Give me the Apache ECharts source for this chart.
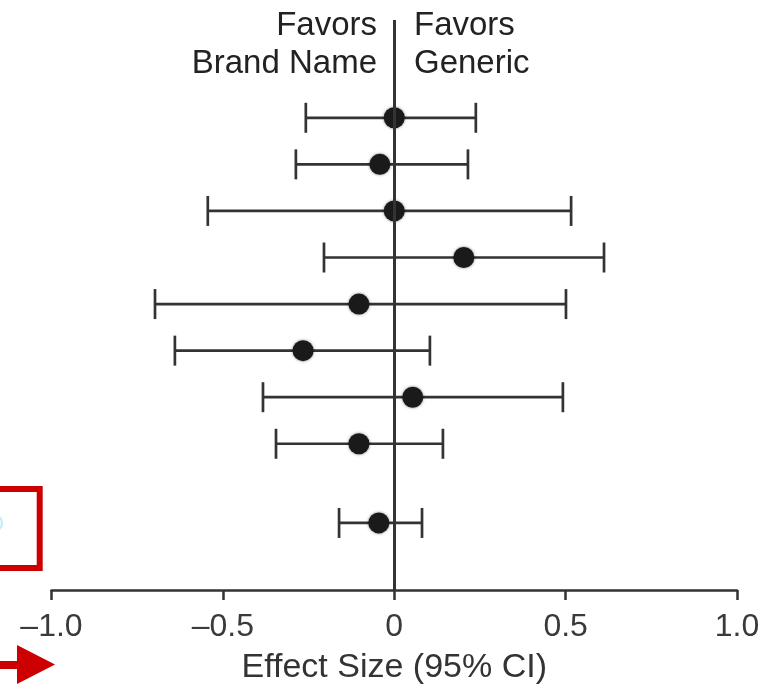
<!DOCTYPE html>
<html>
<head>
<meta charset="utf-8">
<script src="https://cdn.jsdelivr.net/npm/echarts@6/dist/echarts.min.js"></script>
<style>html,body{margin:0;padding:0;background:#fff;}#c{width:776px;height:693px;}</style>
</head>
<body>
<div id="c"></div>
<script>
// Row positions (top to bottom; last is the pooled estimate)
var rowPos   = [1, 2, 3, 4, 5, 6, 7, 8, 9.7];
var estimate = [0.0, -0.042, 0.0, 0.203, -0.103, -0.266, 0.054, -0.103, -0.045];
var ciLow    = [-0.258, -0.287, -0.544, -0.205, -0.698, -0.640, -0.383, -0.345, -0.161];
var ciHigh   = [0.238, 0.215, 0.516, 0.612, 0.501, 0.104, 0.492, 0.142, 0.081];
var xTicks   = [-1.0, -0.5, 0, 0.5, 1.0];
var tickLabels = {'-1': '\u20131.0', '-0.5': '\u20130.5', '0': '0', '0.5': '0.5', '1': '1.0'};

var FONT = '"Liberation Sans", Arial, Helvetica, sans-serif';
var INK = '#222';

var ciData = rowPos.map(function (p, i) { return [ciLow[i], ciHigh[i], p]; });
var ptData = rowPos.map(function (p, i) { return [estimate[i], p]; });

var chart = echarts.init(document.getElementById('c'), null, {renderer: 'canvas'});
chart.setOption({
  animation: false,
  backgroundColor: '#fff',
  grid: {left: 51.5, right: 39, top: 20, bottom: 103, containLabel: false},
  xAxis: {
    type: 'value', min: -1, max: 1, interval: 0.5,
    axisLine: {show: true, onZero: false, lineStyle: {color: '#333', width: 2.5}},
    axisTick: {show: true, length: 10, lineStyle: {color: '#333', width: 2.5}},
    splitLine: {show: false},
    axisLabel: {
      margin: 21, fontSize: 32, color: '#3a3a3a', fontFamily: FONT,
      formatter: function (v) { var k = String(Math.round(v * 10) / 10); return tickLabels[k] !== undefined ? tickLabels[k] : k; }
    },
    name: 'Effect Size (95% CI)', nameLocation: 'middle', nameGap: 61,
    nameTextStyle: {fontSize: 34, color: '#333', fontFamily: FONT}
  },
  yAxis: {type: 'value', min: -1.1, max: 11.14, inverse: true, show: false},
  series: [
    {
      type: 'custom',
      data: ciData,
      encode: {x: [0, 1], y: 2},
      renderItem: function (params, api) {
        var a = api.coord([api.value(0), api.value(2)]);
        var b = api.coord([api.value(1), api.value(2)]);
        var h = 15;
        var st = {stroke: '#333', lineWidth: 2.7};
        return {type: 'group', children: [
          {type: 'line', shape: {x1: a[0], y1: a[1], x2: b[0], y2: b[1]}, style: st},
          {type: 'line', shape: {x1: a[0], y1: a[1] - h, x2: a[0], y2: a[1] + h}, style: st},
          {type: 'line', shape: {x1: b[0], y1: b[1] - h, x2: b[0], y2: b[1] + h}, style: st}
        ]};
      },
      markLine: {
        silent: true, symbol: 'none', label: {show: false},
        lineStyle: {color: '#333', width: 3, type: 'solid'},
        data: [{xAxis: 0}]
      },
      z: 2
    },
    {
      type: 'scatter',
      data: ptData,
      symbol: 'circle', symbolSize: 21,
      itemStyle: {color: '#1a1a1a', opacity: 1, shadowBlur: 3, shadowColor: 'rgba(0,0,0,0.5)'},
      z: 3
    }
  ],
  graphic: [
    {type: 'text', x: 377, y: 45, style: {
      text: 'Favors\nBrand Name', fill: INK, font: '33px ' + FONT,
      textAlign: 'right', textVerticalAlign: 'middle', lineHeight: 38}},
    {type: 'text', x: 414, y: 45, style: {
      text: 'Favors\nGeneric', fill: INK, font: '33px ' + FONT,
      textAlign: 'left', textVerticalAlign: 'middle', lineHeight: 38}},
    {type: 'rect', shape: {x: -10, y: 489, width: 49.7, height: 79},
      style: {fill: 'none', stroke: '#cc0000', lineWidth: 6}},
    {type: 'circle', shape: {cx: -6, cy: 523, r: 8},
      style: {fill: 'none', stroke: '#c6eef4', lineWidth: 2.5}},
    {type: 'polygon', shape: {points: [[0, 661], [17, 661], [17, 645], [55, 664.5], [17, 684], [17, 669], [0, 669]]},
      style: {fill: '#cc0000'}}
  ]
});
</script>
</body>
</html>
